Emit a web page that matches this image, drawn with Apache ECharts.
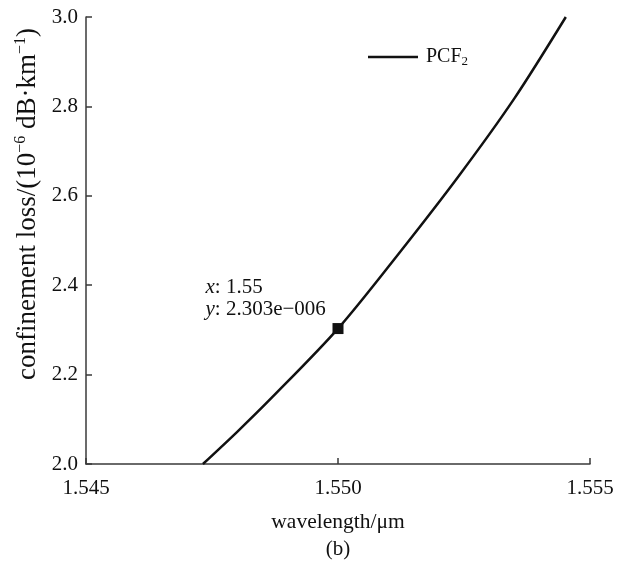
<!DOCTYPE html>
<html>
<head>
<meta charset="utf-8">
<script src="https://cdn.jsdelivr.net/npm/echarts@6/dist/echarts.min.js"></script>
<style>
  html, body { margin: 0; padding: 0; background: #fff; }
  #chart { width: 628px; height: 563px; }
</style>
</head>
<body>
<div id="chart"></div>
<script>
// Confinement loss of PCF2 versus wavelength
var wavelength = [1.54732, 1.5480, 1.5487, 1.5500, 1.5512, 1.5524, 1.5535, 1.55452];
var loss = [2.000, 2.072, 2.150, 2.303, 2.470, 2.645, 2.818, 3.000];
var markedPoint = [1.55, 2.303];
var markedText = ['1.55', '2.303e−006'];
var xTicks = ['1.545', '1.550', '1.555'];
var seriesName = 'PCF2';

var FONT = '"Liberation Serif", "Times New Roman", serif';
var INK = '#111';
var AXIS = '#3a3a3a';

var chart = echarts.init(document.getElementById('chart'), null, { renderer: 'canvas' });

chart.setOption({
  animation: false,
  backgroundColor: '#fff',
  textStyle: { fontFamily: FONT, color: INK },
  grid: { left: 86, right: 38, top: 17, bottom: 99, containLabel: false, outerBoundsMode: 'none' },
  legend: {
    left: 368,
    top: 47,
    padding: 0,
    icon: 'rect',
    itemWidth: 50,
    itemHeight: 2.5,
    itemGap: 8,
    data: [seriesName],
    formatter: function () { return '{m|PCF}{s|2}'; },
    textStyle: {
      fontFamily: FONT,
      color: INK,
      padding: [0, 0, 0, 3],
      rich: {
        m: { fontFamily: FONT, fontSize: 20, color: INK, lineHeight: 22 },
        s: { fontFamily: FONT, fontSize: 13, color: INK, verticalAlign: 'bottom', lineHeight: 18 }
      }
    }
  },
  xAxis: {
    type: 'value',
    min: 1.545,
    max: 1.555,
    interval: 0.005,
    name: 'wavelength/μm',
    nameLocation: 'middle',
    nameGap: 47,
    nameTextStyle: { fontFamily: FONT, fontSize: 21.5, color: INK },
    axisLine: { show: true, lineStyle: { color: AXIS, width: 1.5 } },
    axisTick: { show: true, inside: true, length: 6, lineStyle: { color: AXIS, width: 1.5 } },
    axisLabel: {
      margin: 14,
      fontFamily: FONT,
      fontSize: 21,
      color: INK,
      formatter: function (v) {
        var idx = Math.round((v - 1.545) / 0.005);
        return xTicks[idx] !== undefined ? xTicks[idx] : '';
      }
    },
    splitLine: { show: false }
  },
  yAxis: {
    type: 'value',
    min: 2.0,
    max: 3.0,
    interval: 0.2,
    axisLine: { show: true, lineStyle: { color: AXIS, width: 1.5 } },
    axisTick: { show: true, inside: true, length: 6, lineStyle: { color: AXIS, width: 1.5 } },
    axisLabel: {
      margin: 8,
      fontFamily: FONT,
      fontSize: 21,
      color: INK,
      formatter: function (v) { return v.toFixed(1); }
    },
    splitLine: { show: false }
  },
  series: [
    {
      name: seriesName,
      type: 'line',
      data: wavelength.map(function (x, i) { return [x, loss[i]]; }),
      smooth: 0.3,
      symbol: 'none',
      lineStyle: { color: INK, width: 2.5 },
      itemStyle: { color: INK },
      z: 3
    },
    {
      name: 'datatip',
      type: 'scatter',
      data: [markedPoint],
      symbol: 'rect',
      symbolSize: 11,
      itemStyle: { color: INK, opacity: 1 },
      z: 4,
      label: {
        show: true,
        position: [-127, -47],
        align: 'left',
        verticalAlign: 'top',
        formatter: function () {
          return '{i|x}{n|: ' + markedText[0] + '}\n{i|y}{n|: ' + markedText[1] + '}';
        },
        rich: {
          i: { fontFamily: FONT, fontSize: 21, fontStyle: 'italic', color: INK, lineHeight: 22.5 },
          n: { fontFamily: FONT, fontSize: 21, color: INK, lineHeight: 22.5 }
        }
      }
    }
  ],
  graphic: [
    {
      // y-axis title, rotated, with superscript exponents
      type: 'text',
      x: 28,
      y: 204,
      rotation: Math.PI / 2,
      z: 10,
      style: {
        text: '{t|confinement loss/(10}{p|−6}{t| dB·km}{p|−1}{t|)}',
        align: 'center',
        verticalAlign: 'middle',
        fill: INK,
        rich: {
          t: { fontFamily: FONT, fontSize: 27, fill: INK, lineHeight: 30 },
          p: { fontFamily: FONT, fontSize: 16, fill: INK, verticalAlign: 'top', lineHeight: 30 }
        }
      }
    },
    {
      type: 'text',
      x: 338,
      y: 549,
      z: 10,
      style: {
        text: '(b)',
        font: '21px ' + FONT,
        fill: INK,
        align: 'center',
        verticalAlign: 'middle'
      }
    }
  ]
});
</script>
</body>
</html>
